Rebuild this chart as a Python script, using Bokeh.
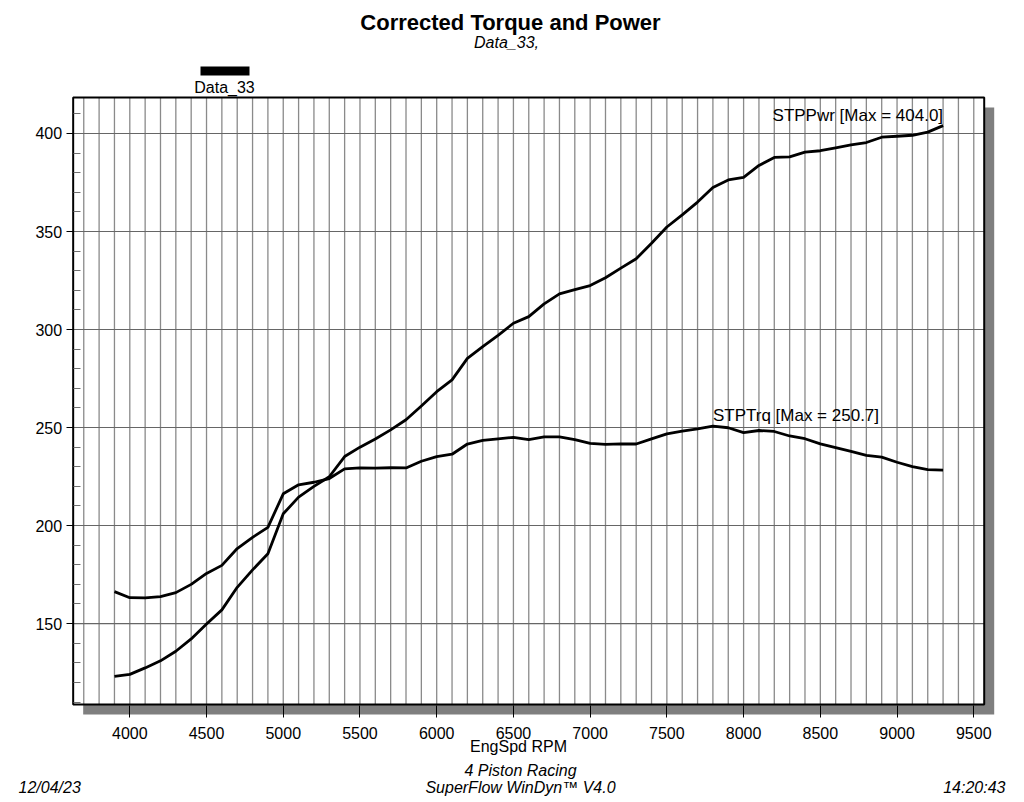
from bokeh.plotting import figure
from bokeh.models import Range1d, Label, FixedTicker, BoxAnnotation
from bokeh.embed import file_html
from bokeh.resources import INLINE

# ---------------- data ----------------
rpm = [3900, 4000, 4100, 4200, 4300, 4400, 4500, 4600, 4700, 4800, 4900,
       5000, 5100, 5200, 5300, 5400, 5500, 5600, 5700, 5800, 5900,
       6000, 6100, 6200, 6300, 6400, 6500, 6600, 6700, 6800, 6900,
       7000, 7100, 7200, 7300, 7400, 7500, 7600, 7700, 7800, 7900,
       8000, 8100, 8200, 8300, 8400, 8500, 8600, 8700, 8800, 8900,
       9000, 9100, 9200, 9300]

stp_trq = [166.3, 163.2, 163.1, 163.8, 165.8, 170.0, 175.6, 179.7, 188.3, 194.0, 199.1,
           216.2, 220.8, 222.1, 224.0, 228.9, 229.4, 229.3, 229.5, 229.4, 232.8,
           235.2, 236.4, 241.6, 243.5, 244.2, 245.0, 243.9, 245.2, 245.2, 243.8,
           241.9, 241.4, 241.7, 241.6, 244.2, 246.8, 248.2, 249.3, 250.7, 249.9,
           247.4, 248.5, 248.0, 245.7, 244.3, 241.7, 239.8, 237.8, 235.8, 234.9,
           232.3, 230.1, 228.5, 228.3]

stp_pwr = [123.1, 124.1, 127.4, 131.0, 135.9, 142.2, 149.8, 157.0, 168.5, 177.4, 185.6,
           206.0, 214.5, 220.0, 224.9, 235.2, 240.0, 244.2, 248.8, 254.0, 261.0,
           268.3, 274.3, 285.3, 291.3, 297.0, 303.2, 306.6, 313.1, 318.2, 320.4,
           322.4, 326.4, 331.3, 336.1, 344.0, 352.3, 358.5, 365.0, 372.5, 376.3,
           377.6, 383.7, 387.8, 388.1, 390.5, 391.2, 392.7, 394.2, 395.4, 398.1,
           398.6, 399.1, 400.7, 404.0]

x_ticks = [4000, 4500, 5000, 5500, 6000, 6500, 7000, 7500, 8000, 8500, 9000, 9500]
x_grid = [3700, 3800, 3900, 4000, 4100, 4200, 4300, 4400, 4500, 4600, 4700, 4800, 4900,
          5000, 5100, 5200, 5300, 5400, 5500, 5600, 5700, 5800, 5900,
          6000, 6100, 6200, 6300, 6400, 6500, 6600, 6700, 6800, 6900,
          7000, 7100, 7200, 7300, 7400, 7500, 7600, 7700, 7800, 7900,
          8000, 8100, 8200, 8300, 8400, 8500, 8600, 8700, 8800, 8900,
          9000, 9100, 9200, 9300, 9400, 9500]
y_ticks = [150, 200, 250, 300, 350, 400]
y_minor = [110, 120, 130, 140, 160, 170, 180, 190, 210, 220, 230, 240,
           260, 270, 280, 290, 310, 320, 330, 340, 360, 370, 380, 390, 410]

title = "Corrected Torque and Power"
subtitle = "Data_33,"
legend_name = "Data_33"
x_label = "EngSpd RPM"
pwr_name = "STPPwr"
trq_name = "STPTrq"
footer_center = ["4 Piston Racing", "SuperFlow WinDyn\u2122 V4.0"]
footer_date = "12/04/23"
footer_time = "14:20:43"

# plot box (data extent of the bordered chart area)
box_x = (3631, 9568)
box_y = (108.7, 418.4)

FONT = "Liberation Sans"
W, H = 1016, 800
XS = 0.15345   # px per rpm
YS = 1.9604    # px per unit
X0 = 3157.4    # rpm at canvas left
Y1 = 467.84    # value at canvas top

p = figure(width=W, height=H, output_backend="svg", toolbar_location=None, title=None,
           x_range=Range1d(X0, X0 + W / XS), y_range=Range1d(Y1 - H / YS, Y1),
           min_border=0, min_border_left=0, min_border_right=0,
           min_border_top=0, min_border_bottom=0)
p.outline_line_color = None
p.background_fill_color = "white"
p.border_fill_color = "white"
p.xgrid.visible = False
p.ygrid.visible = False

def sy(page_y):
    return H - page_y

# drop shadow (offset ~10 px right/down)
dx = 10 / XS
dy = 10 / YS
p.quad(left=[box_x[0] + dx], right=[box_x[1] + dx], bottom=[box_y[0] - dy], top=[box_y[1] - dy],
       fill_color="#7f7f7f", line_color=None)
# white plot box
p.quad(left=[box_x[0]], right=[box_x[1]], bottom=[box_y[0]], top=[box_y[1]],
       fill_color="white", line_color=None)

# grid lines
p.segment(x0=x_grid, x1=x_grid, y0=[box_y[0]] * len(x_grid), y1=[box_y[1]] * len(x_grid),
          line_color="#8a8a8a", line_width=1.3)
p.segment(x0=[box_x[0]] * len(y_ticks), x1=[box_x[1]] * len(y_ticks), y0=y_ticks, y1=y_ticks,
          line_color="#666666", line_width=1.1)

# box border
p.quad(left=[box_x[0]], right=[box_x[1]], bottom=[box_y[0]], top=[box_y[1]],
       fill_color=None, line_color="black", line_width=2)

# curves
p.line(rpm, stp_pwr, line_color="black", line_width=2.8, line_join="round")
p.line(rpm, stp_trq, line_color="black", line_width=2.8, line_join="round")

# series labels at their maxima
ip = stp_pwr.index(max(stp_pwr))
it = stp_trq.index(max(stp_trq))
p.add_layout(Label(x=rpm[ip], y=stp_pwr[ip], y_offset=1, text=f"{pwr_name} [Max = {stp_pwr[ip]:.1f}]",
                   text_align="right", text_baseline="bottom", text_font=FONT,
                   text_font_size="17px", text_color="black"))
p.add_layout(Label(x=rpm[it], y=stp_trq[it], y_offset=1, text=f"{trq_name} [Max = {stp_trq[it]:.1f}]",
                   text_align="left", text_baseline="bottom", text_font=FONT,
                   text_font_size="17px", text_color="black"))

# axes (fixed inside the canvas-wide frame)
xa = p.xaxis[0]
xa.fixed_location = box_y[0] - dy
xa.bounds = (3566, 9500)
xa.ticker = FixedTicker(ticks=x_ticks, minor_ticks=[])
xa.axis_line_color = None
xa.major_tick_line_color = "black"
xa.major_tick_in = 9
xa.major_tick_out = 3
xa.minor_tick_line_color = None
xa.major_label_text_font = FONT
xa.major_label_text_font_size = "16px"
xa.major_label_text_color = "black"
xa.major_label_standoff = 9
xa.axis_label = x_label
xa.axis_label_text_font = FONT
xa.axis_label_text_font_size = "16px"
xa.axis_label_text_font_style = "normal"
xa.axis_label_text_color = "black"
xa.axis_label_standoff = -4

ya = p.yaxis[0]
ya.fixed_location = box_x[0]
ya.bounds = box_y
ya.ticker = FixedTicker(ticks=y_ticks, minor_ticks=y_minor)
ya.axis_line_color = None
ya.major_tick_line_color = "black"
ya.major_tick_in = 0
ya.major_tick_out = 7
ya.minor_tick_line_color = "#707070"
ya.minor_tick_in = 7
ya.minor_tick_out = 0
ya.major_label_text_font = FONT
ya.major_label_text_font_size = "16px"
ya.major_label_text_color = "black"
ya.major_label_standoff = 4

# titles and legend (screen units; frame == canvas)
p.add_layout(Label(x=510, y=sy(22), x_units="screen", y_units="screen", text=title,
                   text_align="center", text_baseline="middle", text_font=FONT,
                   text_font_size="22px", text_font_style="bold", text_color="black"))
p.add_layout(Label(x=506, y=sy(42), x_units="screen", y_units="screen", text=subtitle,
                   text_align="center", text_baseline="middle", text_font=FONT,
                   text_font_size="16px", text_font_style="italic", text_color="black"))
p.add_layout(BoxAnnotation(left=200, right=249, top=sy(66), bottom=sy(75),
                           left_units="screen", right_units="screen",
                           top_units="screen", bottom_units="screen",
                           fill_color="black", fill_alpha=1.0, line_color=None))
p.add_layout(Label(x=224, y=sy(87), x_units="screen", y_units="screen", text=legend_name,
                   text_align="center", text_baseline="middle", text_font=FONT,
                   text_font_size="16px", text_color="black"))

# footer
p.add_layout(Label(x=520, y=sy(770), x_units="screen", y_units="screen", text=footer_center[0],
                   text_align="center", text_baseline="middle", text_font=FONT,
                   text_font_size="16px", text_font_style="italic", text_color="black"))
p.add_layout(Label(x=520, y=sy(787), x_units="screen", y_units="screen", text=footer_center[1],
                   text_align="center", text_baseline="middle", text_font=FONT,
                   text_font_size="16px", text_font_style="italic", text_color="black"))
p.add_layout(Label(x=18, y=sy(787), x_units="screen", y_units="screen", text=footer_date,
                   text_align="left", text_baseline="middle", text_font=FONT,
                   text_font_size="16px", text_font_style="italic", text_color="black"))
p.add_layout(Label(x=1005, y=sy(787), x_units="screen", y_units="screen", text=footer_time,
                   text_align="right", text_baseline="middle", text_font=FONT,
                   text_font_size="16px", text_font_style="italic", text_color="black"))

open("out.html", "w").write(file_html(p, INLINE))
